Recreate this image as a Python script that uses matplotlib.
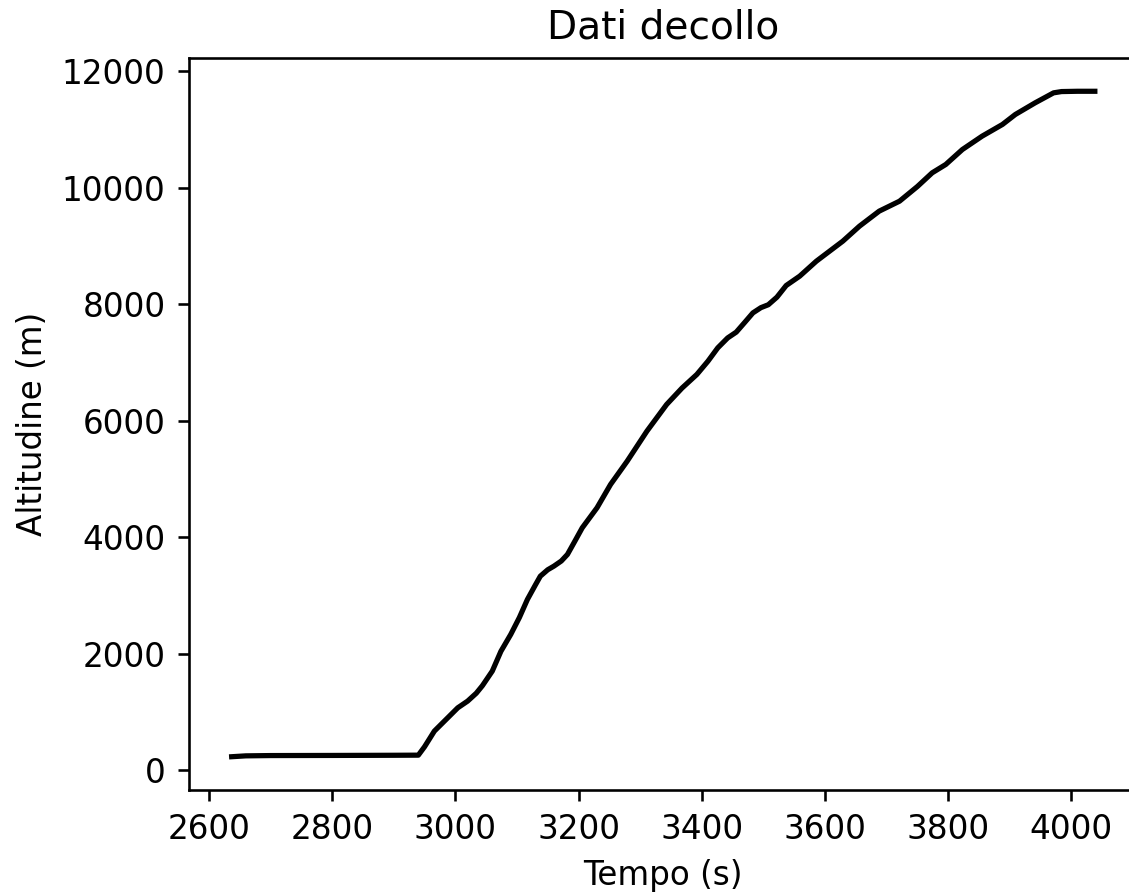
import numpy as np
import matplotlib
matplotlib.use('Agg')
import matplotlib.pyplot as plt

# tempo (s) e altitudine (m)
tempo = [2637, 2660, 2700, 2800, 2900, 2940, 2950, 2966, 2985, 3004, 3020,
         3034, 3044, 3060, 3074, 3090, 3104, 3117, 3130, 3138, 3150, 3160,
         3172, 3182, 3194, 3206, 3230, 3252, 3279, 3311, 3343, 3368, 3392,
         3410, 3426, 3442, 3456, 3470, 3483, 3496, 3508, 3522, 3537, 3559,
         3586, 3629, 3656, 3688, 3721, 3750, 3774, 3796, 3823, 3855, 3888,
         3909, 3941, 3971, 3984, 4010, 4038]
altitudine = [230, 245, 250, 252, 255, 257, 400, 670, 870, 1070, 1185,
              1320, 1450, 1700, 2040, 2330, 2620, 2930, 3180, 3330, 3440, 3502,
              3590, 3703, 3930, 4160, 4504, 4905, 5305, 5820, 6278, 6560, 6793,
              7020, 7250, 7420, 7520, 7690, 7850, 7940, 7990, 8120, 8320, 8481,
              8738, 9082, 9339, 9597, 9768, 10020, 10255, 10398, 10655, 10884, 11085,
              11257, 11456, 11628, 11650, 11655, 11655]

DPI = 235
fig = plt.figure(figsize=(1129 / DPI, 894 / DPI), dpi=DPI)
ax = fig.add_axes([188.5 / 1129, 104 / 894, (1138 - 188.5) / 1129, (790 - 58) / 894])

ax.plot(tempo, altitudine, color='black', linewidth=1.6)
ax.set_title('Dati decollo')
ax.set_xlabel('Tempo (s)')
ax.set_ylabel('Altitudine (m)')

fig.savefig('out.png', dpi=DPI)
